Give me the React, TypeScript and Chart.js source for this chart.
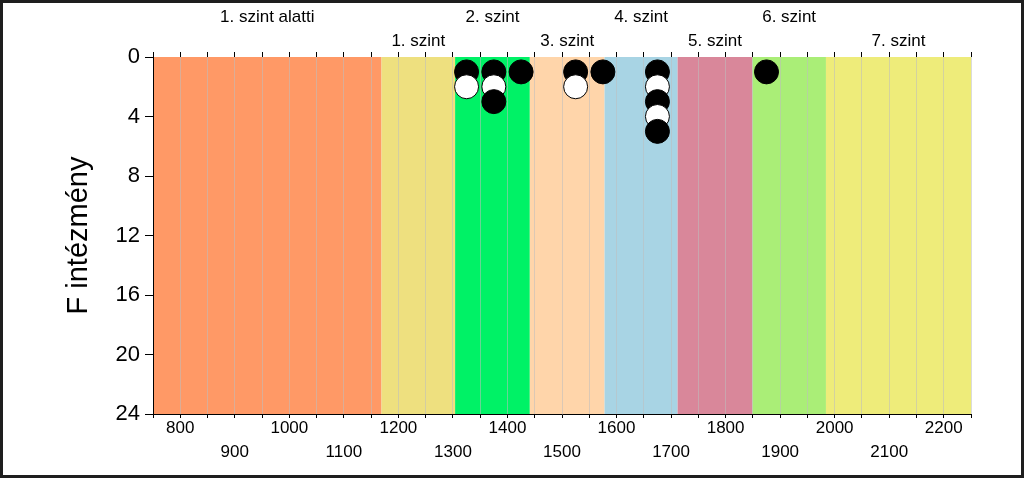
import React, { useEffect, useRef } from 'react';
import { Chart, registerables } from 'chart.js';

Chart.register(...registerables);

// ---- data ----
const bandStarts = [750, 1169, 1304, 1441, 1578, 1712, 1849, 1984];
const bandEnds = [1169, 1304, 1441, 1578, 1712, 1849, 1984, 2250];
const bandLabels = ['1. szint alatti', '1. szint', '2. szint', '3. szint', '4. szint', '5. szint', '6. szint', '7. szint'];
const bandColors = ['#FF9966', '#EEE07F', '#00F266', '#FFD5AA', '#A8D4E4', '#D9879A', '#AAEE77', '#EEEC7A'];

const blackX = [1325, 1375, 1375, 1425, 1525, 1575, 1675, 1675, 1675, 1875];
const blackY = [1, 1, 3, 1, 1, 1, 1, 3, 5, 1];
const whiteX = [1325, 1375, 1525, 1675, 1675];
const whiteY = [2, 2, 2, 2, 4];

const xTickValues = [750, 800, 850, 900, 950, 1000, 1050, 1100, 1150, 1200, 1250, 1300, 1350, 1400, 1450, 1500, 1550, 1600, 1650, 1700, 1750, 1800, 1850, 1900, 1950, 2000, 2050, 2100, 2150, 2200, 2250];
const xLabelsRow1 = [800, 1000, 1200, 1400, 1600, 1800, 2000, 2200];
const xLabelsRow2 = [900, 1100, 1300, 1500, 1700, 1900, 2100];
const yTickValues = [0, 4, 8, 12, 16, 20, 24];
const yTitle = 'F intézmény';

const FONT = "Arial, 'Liberation Sans', sans-serif";

const bandPlugin = {
  id: 'bands',
  beforeDraw(chart: any) {
    const { ctx, chartArea } = chart;
    const xs = chart.scales.x;
    ctx.save();
    ctx.fillStyle = '#ffffff';
    ctx.fillRect(0, 0, chart.width, chart.height);
    for (let i = 0; i < bandStarts.length; i++) {
      const x0 = xs.getPixelForValue(bandStarts[i]);
      const x1 = xs.getPixelForValue(bandEnds[i]);
      ctx.fillStyle = bandColors[i];
      ctx.fillRect(x0, chartArea.top, x1 - x0, chartArea.bottom - chartArea.top);
    }
    ctx.fillStyle = '#000';
    ctx.font = `17px ${FONT}`;
    ctx.textAlign = 'center';
    ctx.textBaseline = 'middle';
    for (let i = 0; i < bandLabels.length; i++) {
      const cx = xs.getPixelForValue((bandStarts[i] + bandEnds[i]) / 2);
      const cy = i % 2 === 0 ? 17 : 41;
      ctx.fillText(bandLabels[i], cx, cy);
    }
    ctx.restore();
  },
};

const framePlugin = {
  id: 'frame',
  afterDraw(chart: any) {
    const { ctx } = chart;
    ctx.save();
    ctx.strokeStyle = '#1e1e1e';
    ctx.lineWidth = 3;
    ctx.strokeRect(1.5, 1.5, chart.width - 3, chart.height - 3);
    ctx.restore();
  },
};

export default function App() {
  const ref = useRef<HTMLCanvasElement | null>(null);

  useEffect(() => {
    const canvas = ref.current;
    if (!canvas) return;
    const pts = [
      ...blackX.map((x, i) => ({ x, y: blackY[i], fill: '#000000' })),
      ...whiteX.map((x, i) => ({ x, y: whiteY[i], fill: '#ffffff' })),
    ].sort((a, b) => a.y - b.y);

    const chart = new Chart(canvas, {
      type: 'scatter',
      data: {
        datasets: [
          {
            data: pts.map((p) => ({ x: p.x, y: p.y })),
            pointRadius: 12,
            pointHoverRadius: 12,
            pointBackgroundColor: pts.map((p) => p.fill),
            pointBorderColor: '#000000',
            pointBorderWidth: 1,
          },
        ],
      },
      options: {
        animation: false,
        responsive: false,
        maintainAspectRatio: false,
        events: [],
        layout: { padding: { top: 0, right: 53, bottom: 0, left: 0 } },
        plugins: { legend: { display: false }, tooltip: { enabled: false } },
        scales: {
          x: {
            type: 'linear',
            position: 'bottom',
            min: 750,
            max: 2250,
            afterBuildTicks: (s: any) => {
              s.ticks = xTickValues.map((v) => ({ value: v }));
            },
            afterFit: (s: any) => {
              s.height = 64;
            },
            ticks: {
              autoSkip: false,
              maxRotation: 0,
              minRotation: 0,
              color: '#000',
              padding: -2,
              font: { family: FONT, size: 17, lineHeight: 24 / 17 },
              callback: (v: any) => {
                const n = Number(v);
                if (xLabelsRow1.includes(n)) return String(n);
                if (xLabelsRow2.includes(n)) return ['', String(n)];
                return '';
              },
            },
            grid: {
              drawOnChartArea: true,
              color: 'rgba(190,190,190,0.55)',
              tickColor: '#000',
              tickLength: 4,
              lineWidth: 1,
            },
            border: { display: true, color: '#000', width: 1 },
          },
          xTop: {
            type: 'linear',
            position: 'top',
            min: 750,
            max: 2250,
            afterBuildTicks: (s: any) => {
              s.ticks = xTickValues.map((v) => ({ value: v }));
            },
            afterFit: (s: any) => {
              s.height = 57;
            },
            ticks: { display: false },
            grid: { drawOnChartArea: false, tickColor: '#000', tickLength: 5 },
            border: { display: false },
          },
          y: {
            type: 'linear',
            position: 'left',
            reverse: true,
            min: 0,
            max: 24,
            afterBuildTicks: (s: any) => {
              s.ticks = yTickValues.map((v) => ({ value: v }));
            },
            afterFit: (s: any) => {
              s.width = 153;
            },
            ticks: {
              color: '#000',
              padding: 5,
              font: { family: FONT, size: 22 },
            },
            grid: { drawOnChartArea: false, tickColor: '#000', tickLength: 8 },
            border: { display: true, color: '#000', width: 1 },
            title: {
              display: true,
              text: yTitle,
              color: '#000',
              font: { family: FONT, size: 29 },
              padding: { top: 62, bottom: 0 },
            },
          },
        },
      } as any,
      plugins: [bandPlugin, framePlugin],
    });

    return () => chart.destroy();
  }, []);

  return (
    <div style={{ position: 'absolute', left: 0, top: 0, width: 1024, height: 478 }}>
      <canvas ref={ref} width={1024} height={478} style={{ display: 'block' }} />
    </div>
  );
}
